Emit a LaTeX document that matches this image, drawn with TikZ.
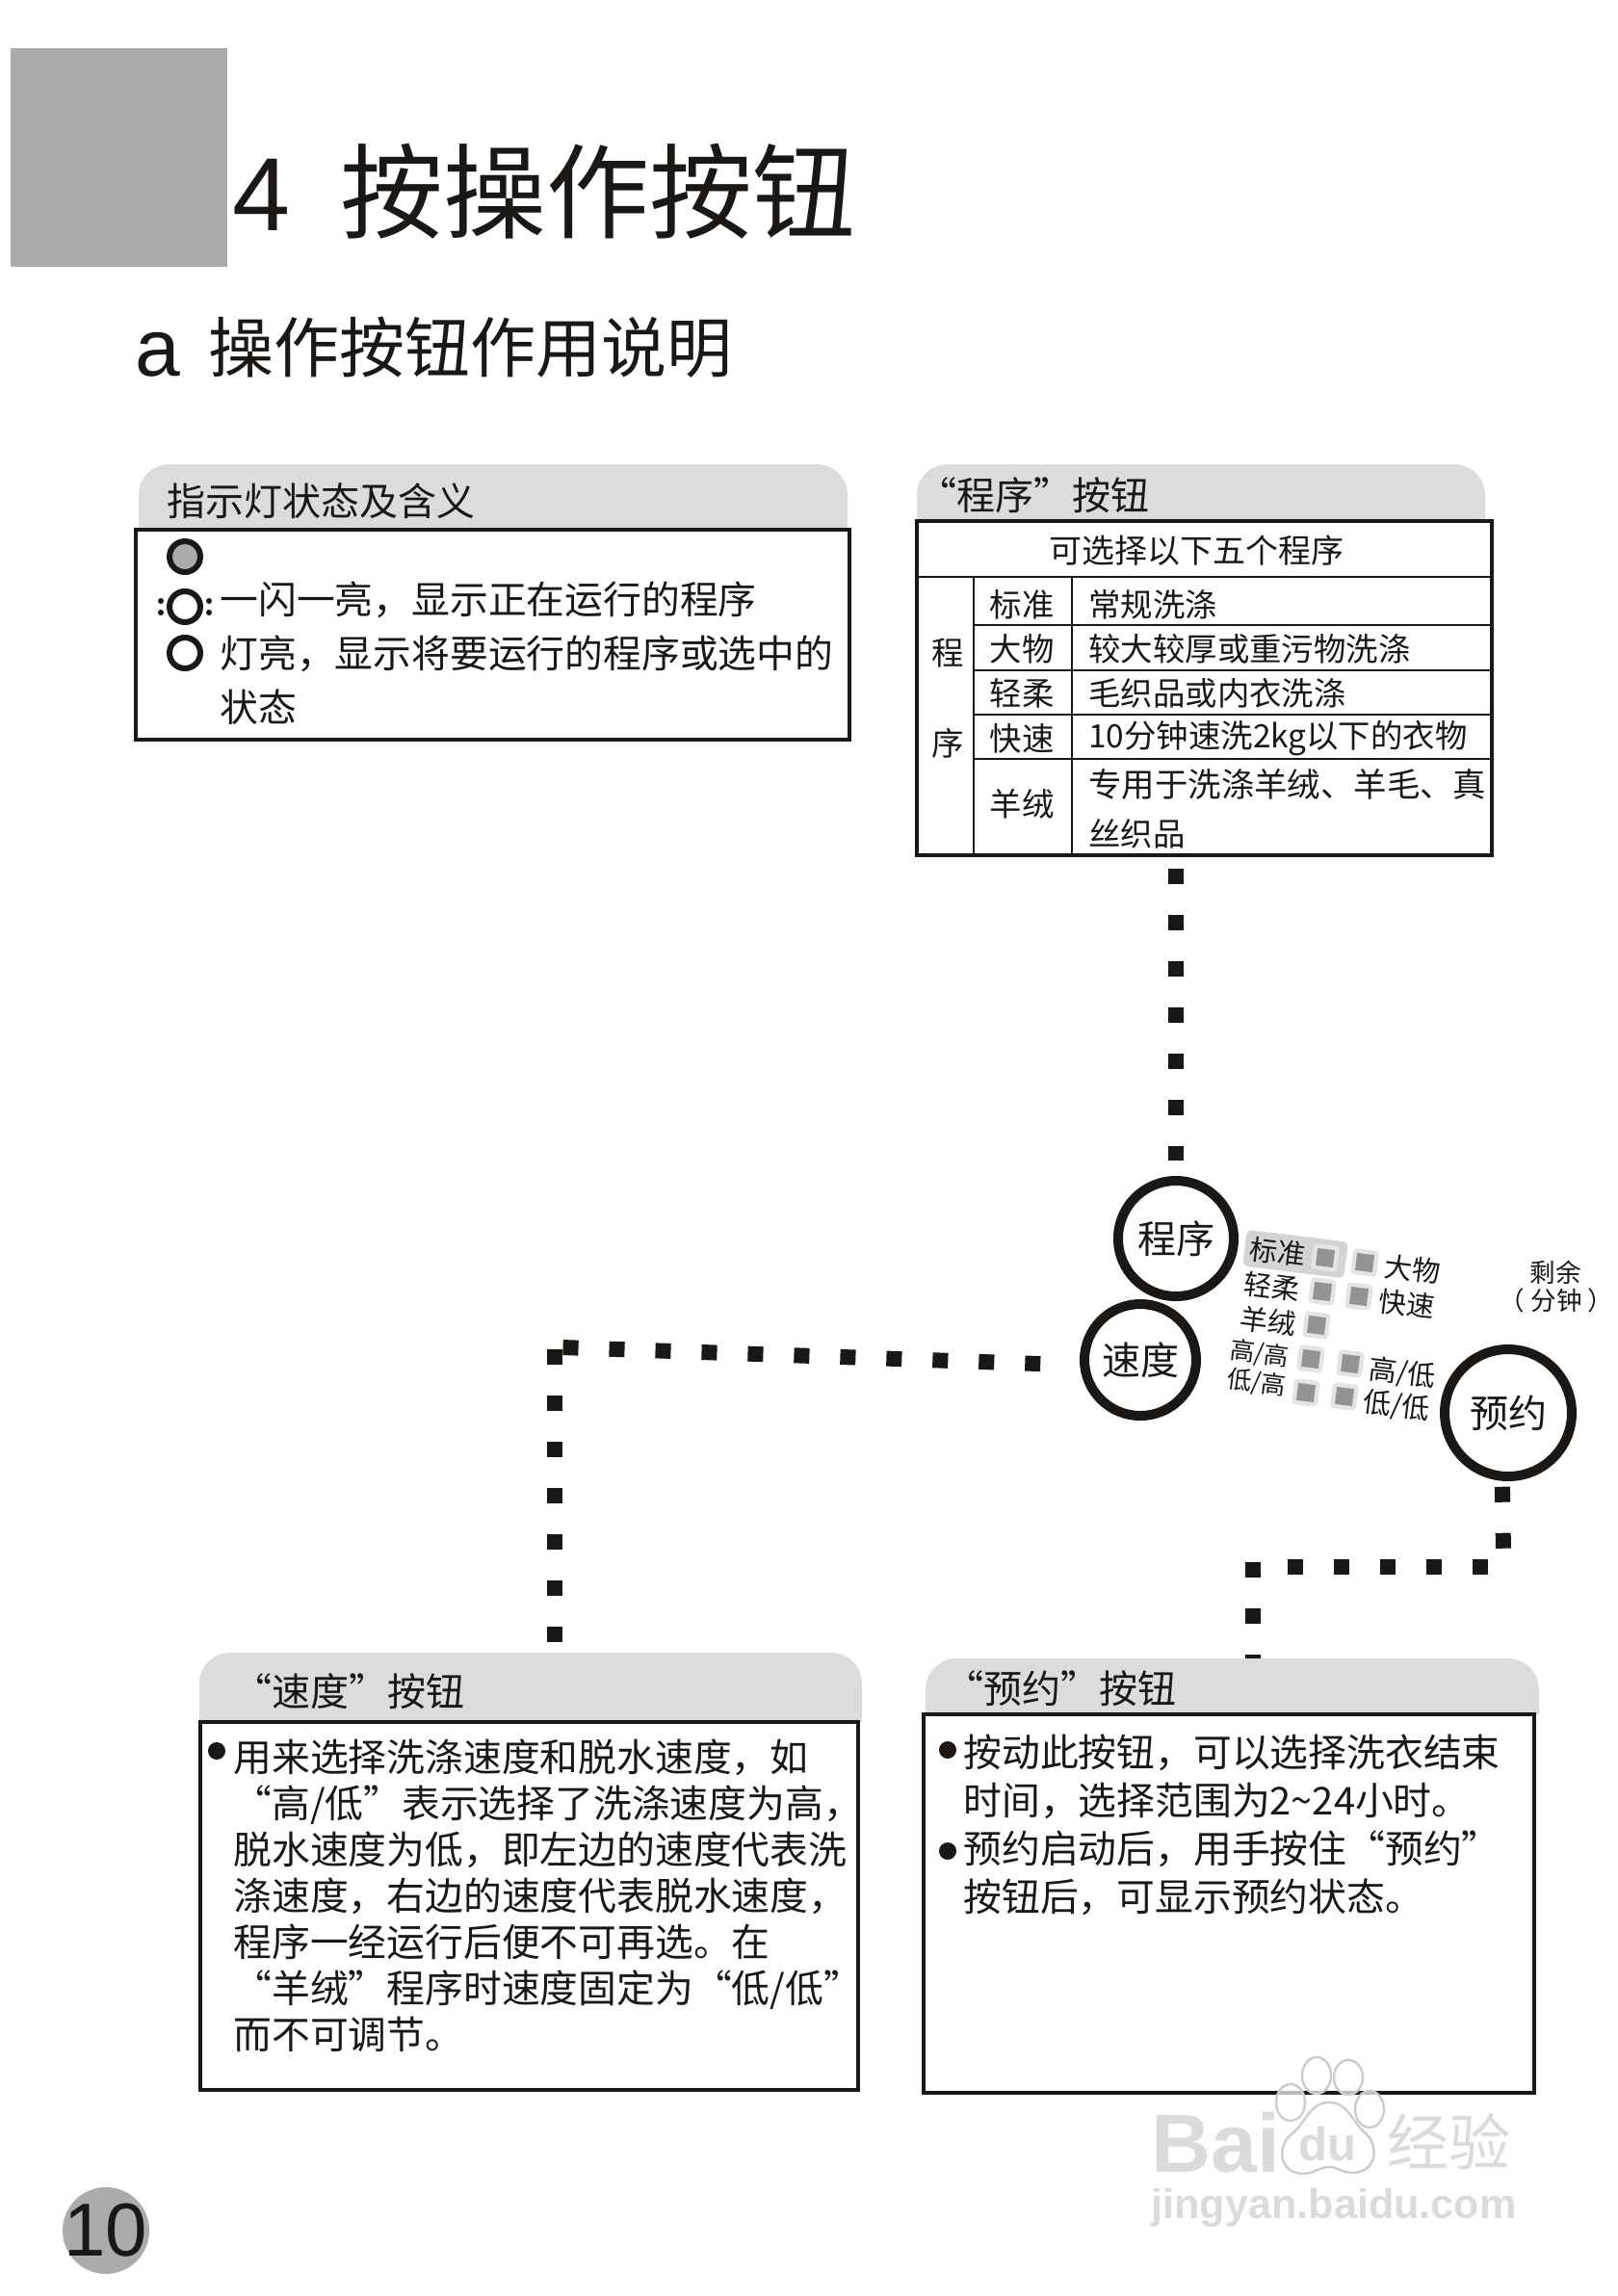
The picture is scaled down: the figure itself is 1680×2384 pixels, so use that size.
\documentclass[tikz,border=0pt]{standalone}
\usepackage{xcolor}
\usepackage{fontspec}
\setmainfont{Noto Sans CJK SC}
\newfontfamily\latinsans{Liberation Sans}
\usetikzlibrary{positioning, backgrounds}
\definecolor{tabgray}{HTML}{DCDCDC}
\definecolor{blockgray}{HTML}{ABABAB}
\definecolor{inkblack}{HTML}{1A1715}
\definecolor{keygray}{HTML}{939393}
\definecolor{keyrim}{HTML}{E4E4E4}
\definecolor{markgray}{HTML}{D4D4D4}
\newcommand{\fs}[1]{\fontsize{#1}{#1}\selectfont}

\begin{document}
\begin{tikzpicture}[
    x=0.5pt, y=-0.5pt,
    every node/.style={text=inkblack},
    tabshape/.style={fill=tabgray, rounded corners=16pt},
    panel/.style={rectangle, draw=inkblack, line width=2.2pt, fill=white, inner sep=0pt},
    tabtitle/.style={anchor=west, font=\fs{20}, inner sep=0pt},
    bodytext/.style={anchor=north west, align=left, inner sep=0pt, font=\fontsize{19.9}{24}\selectfont},
    cell/.style={font=\fs{16.7}, inner sep=0pt},
    celltext/.style={anchor=west, font=\fs{16.7}, inner sep=0pt},
    rowline/.style={draw=inkblack, line width=1pt},
    dotline/.style={draw=inkblack, line width=8pt, dash pattern=on 8pt off 16pt},
    btn/.style={circle, draw=inkblack, line width=5pt, fill=white, inner sep=0pt, font=\fs{20}},
    lamp/.style={circle, draw=inkblack, line width=3pt, minimum size=16pt, inner sep=0pt, fill=white},
    bullet/.style={circle, fill=inkblack, minimum size=9pt, inner sep=0pt},
    blink/.style={circle, fill=inkblack, minimum size=3pt, inner sep=0pt},
    keyrimbox/.style={rectangle, rounded corners=2pt, fill=keyrim, minimum size=13.5pt, inner sep=0pt, rotate=-7},
    keybox/.style={rectangle, fill=keygray, minimum size=9pt, inner sep=0pt, rotate=-7},
    keylabel/.style={font=\fs{14.5}, inner sep=0pt, rotate=-7},
    wmark/.style={text=black!14, inner sep=0pt},
    wmline/.style={draw=black!20, line width=1.2pt},
    wmtoe/.style={wmline, fill=white, fill opacity=0.7},
]
\useasboundingbox (0,0) rectangle (1680,2384);

% page heading
\node[fill=blockgray, minimum width=112.5pt, minimum height=113.5pt, inner sep=0pt] (corner) at (123.5,163.5) {};
\node[anchor=base west, inner sep=0pt, font=\latinsans\fs{54}] (chapnum) at (241,239) {4};
\node[anchor=base west, inner sep=0pt, font=\fs{53.5}] (chaptitle) at (353,239) {按操作按钮};
\node[anchor=base west, inner sep=0pt, font=\latinsans\fs{42}] (secletter) at (140,390) {a};
\node[anchor=base west, inner sep=0pt, font=\fs{34}] (sectitle) at (216,386) {操作按钮作用说明};

% indicator panel
\fill[tabshape] (144,550) |- (880,482) -- (880,550);
\node[tabtitle] (lamptitle) at (173,520) {指示灯状态及含义};
\node[panel, minimum width=370.5pt, minimum height=109pt] (lampbox) at (511.5,659) {};
\node[lamp, fill=blockgray] (lampon) at (192,578) {};
\node[lamp] (lampblink) at (192,630) {};
\node[lamp] (lampoff) at (192,678) {};
\foreach \dx/\dy in {-25/-6, -25/6, 25/-6, 25/6}
  \node[blink] at ([shift={(\dx,\dy)}]lampblink) {};
\node[bodytext, font=\fontsize{19.9}{28}\selectfont] (lamptext) at (228,603) {一闪一亮，显示正在运行的程序\\灯亮，显示将要运行的程序或选中的\\状态};

% program panel
\fill[tabshape] (952,541) |- (1542,482) -- (1542,541);
\node[tabtitle] (progtitle) at (953,514) {“程序”按钮};
\node[panel, line width=2pt, minimum width=298.5pt, minimum height=173.5pt] (progbox) at (1250.5,714.5) {};
\node[cell, font=\fs{17}] (proghead) at (1242,572) {可选择以下五个程序};
\draw[rowline] (progbox.west |- 0,599) -- (progbox.east |- 0,599);
\draw[rowline] (1011,599) -- (1011,888);
\draw[rowline] (1113,599) -- (1113,888);
\foreach \y in {649,696,742,788}
  \draw[rowline] (1011,\y) -- (progbox.east |- 0,\y);
\node[cell] (progchar1) at (984,678) {程};
\node[cell] (progchar2) at (984,772) {序};
\foreach \name/\y/\what in {标准/628/常规洗涤, 大物/674/较大较厚或重污物洗涤, 轻柔/720/毛织品或内衣洗涤, 快速/767/10分钟速洗2kg以下的衣物}{
  \node[cell] at (1061,\y) {\name};
  \node[celltext] at (1130,\y) {\what};
}
\node[cell] (progwool) at (1061,835) {羊绒};
\node[celltext, font=\fs{17.2}] (progwool1) at (1130,815) {专用于洗涤羊绒、羊毛、真};
\node[celltext] (progwool2) at (1130,866) {丝织品};

% control buttons
\node[btn, minimum size=60pt] (progbtn) at (1221,1286) {程序};
\node[btn, minimum size=58pt] (speedbtn) at (1184,1412) {速度};
\node[btn, minimum size=66pt] (timebtn) at (1566,1467) {预约};
\node[rectangle, rounded corners=3pt, fill=markgray, minimum width=53pt, minimum height=19pt, inner sep=0pt, rotate=-7] (markbox) at (1345,1302) {};
\foreach \x/\y in {1376/1306, 1417/1311, 1373/1341, 1411/1346, 1367/1376, 1361/1411, 1402/1416, 1356/1446, 1396/1450}{
  \node[keyrimbox] at (\x,\y) {};
  \node[keybox] at (\x,\y) {};
}
\foreach \x/\y/\what in {1327/1300/{标准}, 1321/1336/{轻柔}, 1317/1372/{羊绒}, 1467/1318/{大物}, 1461/1354/{快速}, 1456/1426/{高/低}, 1450/1460/{低/低}}
  \node[keylabel] at (\x,\y) {\what};
\node[keylabel, font=\fs{12.8}] (speedhh) at (1308,1406) {高/高};
\node[keylabel, font=\fs{12.8}] (speedlh) at (1305,1436) {低/高};
\node[inner sep=0pt, font=\fs{13.3}] (remaintop) at (1615,1321) {剩余};
\node[inner sep=0pt, font=\fs{13.3}] (remainbot) at (1616,1350) {（\kern3pt 分钟\kern3pt ）};

% speed panel
\fill[tabshape] (207,1788) |- (895,1716) -- (895,1788);
\node[tabtitle] (speedtitle) at (242,1756) {“速度”按钮};
\node[panel, minimum width=341.5pt, minimum height=191pt] (speedbox) at (549.5,1979) {};
\node[bullet] (speedmark) at (225,1818) {};
\node[bodytext] (speedtext) at (242,1805) {用来选择洗涤速度和脱水速度，如\\“高/低”表示选择了洗涤速度为高，\\脱水速度为低，即左边的速度代表洗\\涤速度，右边的速度代表脱水速度，\\程序一经运行后便不可再选。在\\“羊绒”程序时速度固定为“低/低”\\而不可调节。};

% delay panel
\fill[tabshape] (961,1780) |- (1598,1722) -- (1598,1780);
\node[tabtitle] (timetitle) at (981,1753) {“预约”按钮};
\node[panel, line width=2.2pt, minimum width=317pt, minimum height=196.5pt] (timebox) at (1276,1976.5) {};
\node[bullet] (timemark1) at (984,1817) {};
\node[bullet] (timemark2) at (984,1922) {};
\node[bodytext, font=\fontsize{19.9}{25}\selectfont] (timetext) at (1000,1800) {按动此按钮，可以选择洗衣结束\\时间，选择范围为2\textasciitilde 24小时。\\预约启动后，用手按住“预约”\\按钮后，可显示预约状态。};

% page number
\node[circle, fill=blockgray, minimum size=45pt, inner sep=0pt] (pagedisc) at (110,2316) {};
\node[inner sep=0pt, font=\latinsans\fs{39}] (pagenum) at (pagedisc) {10};

% watermark
\node[wmark, font=\latinsans\bfseries\fs{43}, anchor=base west] (wmbai) at (1195,2255) {Bai};
\draw[wmline] (1380,2183) .. controls (1400,2183) and (1405,2205) .. (1418,2215) .. controls (1432,2228) and (1430,2255) .. (1405,2256) .. controls (1392,2256) and (1390,2250) .. (1380,2250) .. controls (1370,2250) and (1365,2257) .. (1352,2257) .. controls (1328,2256) and (1325,2228) .. (1342,2215) .. controls (1355,2205) and (1360,2183) .. (1380,2183);
\node[wmark, font=\latinsans\bfseries\fs{24.5}, anchor=base] (wmdu) at (1378,2243) {du};
\node[wmark, font=\fs{32}, anchor=base west] (wmjy) at (1440,2248) {经验};
\node[wmark, font=\latinsans\bfseries\fs{21.6}, anchor=base west] (wmurl) at (1195,2303) {jingyan.baidu.com};
\foreach \x/\y/\rx/\ry in {1367/2155/15/19, 1400/2157/15/18, 1340/2183/15/19, 1422/2190/15/19}
  \draw[wmtoe] (\x,\y) ellipse[x radius=\rx, y radius=\ry];

% dotted links
\coordinate (speedbend) at (583,1399);
\coordinate (speeddown) at (576,1401);
\coordinate (timeleft) at (1545,1627);
\coordinate (timeright) at (1337,1627);
\coordinate (timedown) at (1301,1622);
\coordinate (timeknee) at (1561,1611);
\begin{scope}[on background layer]
\draw[dotline, shorten <=6pt, shorten >=8pt] (progbtn.north |- progbox.south) -- (progbtn.north);
\draw[dotline, shorten <=20.5pt] (speedbtn.185) -- (speedbend);
\draw[dotline] (speeddown) -- (speeddown |- speedbox.north);
\draw[dotline, shorten <=3pt] (timebtn.265) -- (timeknee);
\draw[dotline] (timeleft) -- (timeright);
\draw[dotline] (timedown) -- (timedown |- timebox.north);
\end{scope}
\end{tikzpicture}
\end{document}
